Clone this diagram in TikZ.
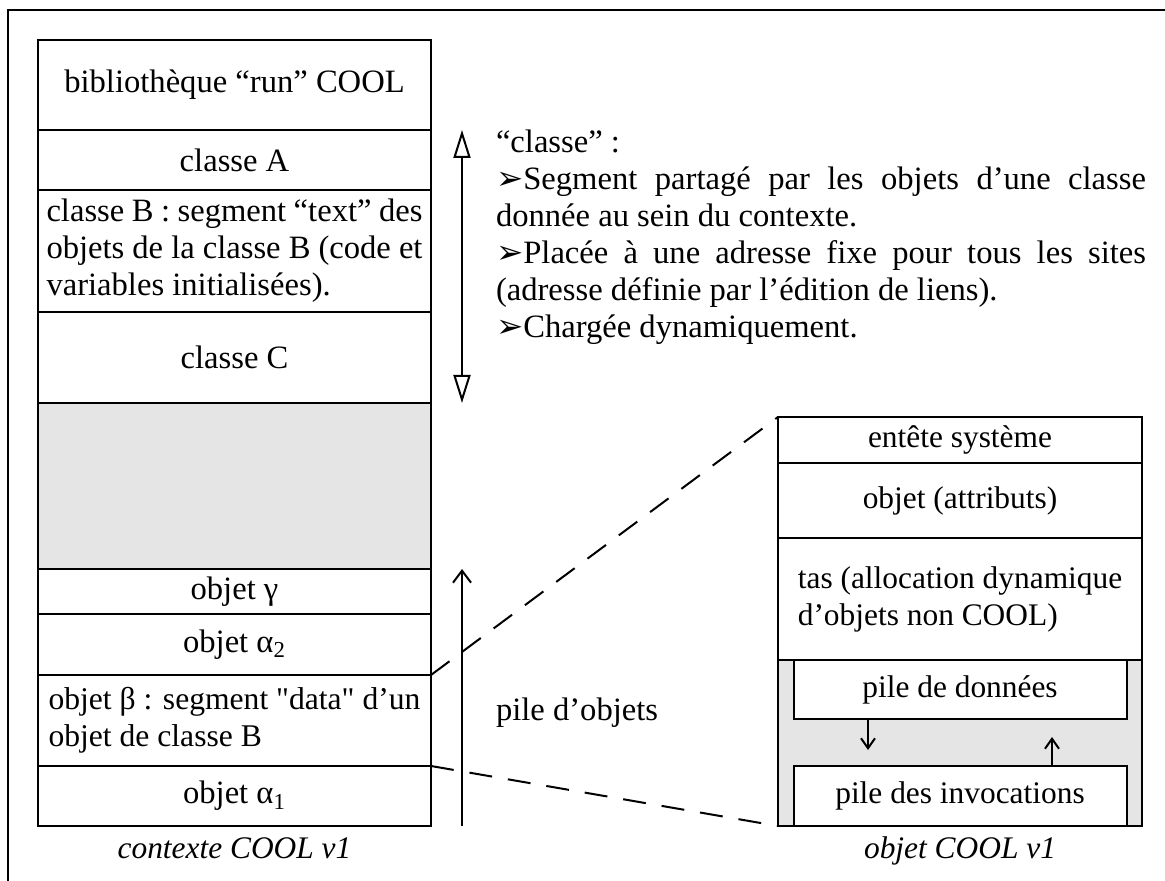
\documentclass[tikz,border=0pt]{standalone}
\usepackage{fontspec}
\setmainfont{Liberation Serif}[Ligatures=TeXOff]
\newfontfamily\symbfont{DejaVu Sans}
\usepackage{tikz}
\usetikzlibrary{positioning, calc, arrows.meta}

\newcommand{\figfont}{\fontsize{16.3}{18.5}\selectfont}
\newcommand{\figfontR}{\fontsize{15.7}{18.5}\selectfont}
\newcommand{\puce}{{\symbfont\char"27A2}}

\tikzset{
    cellL/.style={draw, rectangle, minimum width=196.5pt, inner sep=0pt, outer sep=0pt},
    cellR/.style={draw, rectangle, minimum width=182pt, inner sep=0pt, outer sep=0pt, font=\figfontR},
    pilebox/.style={draw, fill=white, rectangle, minimum width=166.5pt, inner sep=0pt, outer sep=0pt, font=\figfontR},
    legende/.style={font=\figfontR\itshape, inner sep=0pt, anchor=base},
    lien/.style={dash pattern=on 11.5pt off 8pt},
    zone/.style={fill=gray!20}
}

\begin{document}
\begin{tikzpicture}[x=0.5pt, y=-0.5pt, line width=1pt, font=\figfont]
    \useasboundingbox (0,0) rectangle (1165,881);

    % Frame
    \draw (1165,10) -- (8,10) -- (8,881);

    % Contexte COOL v1
    \node[cellL, minimum height=45pt] (bib) at (234.5,85) {bibliothèque “run” COOL};
    \node[cellL, minimum height=30pt, below=0pt of bib] (clsA) {classe A};
    \node[cellL, minimum height=61pt, below=0pt of clsA, text width=188pt, align=justify] (clsB)
        {classe B : segment “text” des\linebreak objets de la classe B (code et\linebreak variables initialisées).};
    \node[cellL, minimum height=45.5pt, below=0pt of clsB] (clsC) {classe C};
    \node[cellL, zone, minimum height=83pt, below=0pt of clsC] (libre) {};
    \node[cellL, minimum height=22.5pt, below=0pt of libre] (gamma) {objet γ};
    \node[cellL, minimum height=30.5pt, below=0pt of gamma] (alphaII) {objet α\textsubscript{2}};
    \node[cellL, minimum height=45.5pt, below=0pt of alphaII, align=left, font=\fontsize{15.8}{18.5}\selectfont] (beta)
        {objet β : segment "data" d’un\\ objet de classe B};
    \node[cellL, minimum height=30pt, below=0pt of beta] (alphaI) {objet α\textsubscript{1}};
    \node[legende] (capL) at ($(alphaI.south)+(0,32)$) {contexte COOL v1};

    % Arrows next to the context
    \coordinate (axe) at (462,0);
    \draw[{Triangle[open,length=14pt,width=8.5pt]}-{Triangle[open,length=14pt,width=8.5pt]}]
        (clsA.north -| axe) -- (clsC.south -| axe);
    \draw[-{Straight Barb[length=6pt,width=9pt]}] (alphaI.south -| axe) -- (gamma.north -| axe);
    \node[anchor=west, inner sep=0pt] (pileLbl) at (495,713) {pile d’objets};

    % Classe description
    \node[anchor=north west, text width=325pt, align=justify, inner sep=0pt] (note) at (495,129)
        {“classe” :\\
         \puce Segment partagé par les objets d’une classe\linebreak donnée au sein du contexte.\\
         \puce Placée à une adresse fixe pour tous les sites\linebreak (adresse définie par l’édition de liens).\\
         \puce Chargée dynamiquement.};

    % Objet COOL v1
    \node[cellR, minimum height=23pt] (entete) at (960,440) {entête système};
    \node[cellR, minimum height=37.5pt, below=0pt of entete] (attr) {objet (attributs)};
    \node[cellR, minimum height=61pt, below=0pt of attr, align=left] (tas)
        {tas (allocation dynamique\\ d’objets non COOL)};
    \node[cellR, zone, minimum height=83pt, below=0pt of tas] (piles) {};
    \node[pilebox, minimum height=29.5pt, anchor=north] (donnees) at (piles.north) {pile de données};
    \node[pilebox, minimum height=30pt, anchor=south] (invoc) at (piles.south) {pile des invocations};
    \node[legende] (capR) at ($(piles.south)+(0,32)$) {objet COOL v1};

    % Stack arrows
    \coordinate (dnEnd) at (868,750);
    \coordinate (upEnd) at (1052,737);
    \draw[-{Straight Barb[length=5pt,width=7pt]}] (donnees.south -| dnEnd) -- (dnEnd);
    \draw[-{Straight Barb[length=5pt,width=7pt]}] (invoc.north -| upEnd) -- (upEnd);

    % Zoom lines
    \draw[lien] (alphaII.south east) -- (entete.north west);
    \draw[lien] (beta.south east) -- (piles.south west);
\end{tikzpicture}
\end{document}
